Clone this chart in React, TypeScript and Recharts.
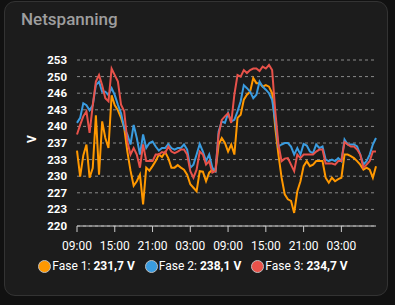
import React from 'react';
import { LineChart, Line, XAxis, YAxis, CartesianGrid } from 'recharts';

// hours since 09:00 on day 1, half-hour steps
const hours: number[] = Array.from({ length: 96 }, (_, i) => i * 0.5);

const fase1: number[] = [
  235.0, 229.8, 234.0, 236.2, 229.6, 231.5, 242.0, 230.2, 240.8, 237.5,
  235.5, 246.0, 244.0, 243.0, 241.5, 239.5, 234.8, 231.0, 228.0, 228.9,
  230.2, 224.3, 231.6, 231.0, 231.9, 232.9, 234.2, 233.7, 234.7, 233.5,
  231.6, 231.6, 232.1, 231.6, 231.2, 230.2, 228.3, 227.6, 226.9, 230.9,
  230.8, 228.9, 230.6, 231.2, 230.9, 236.2, 237.5, 236.5, 234.8, 236.2,
  234.2, 241.5, 242.1, 245.1, 246.1, 246.7, 249.4, 248.4, 248.4, 247.7,
  248.0, 247.7, 246.4, 239.5, 234.2, 229.6, 226.3, 225.3, 225.0, 222.6,
  226.9, 228.9, 231.9, 232.9, 231.9, 232.2, 232.9, 232.9, 232.9, 229.6,
  228.6, 229.6, 228.9, 229.3, 229.6, 234.2, 234.2, 233.9, 233.5, 232.9,
  232.2, 231.2, 231.6, 231.2, 229.6, 231.9,
];

const fase2: number[] = [
  240.5, 241.5, 244.4, 244.0, 243.0, 244.0, 248.0, 248.7, 246.7, 246.7,
  246.0, 247.4, 246.0, 244.1, 242.4, 239.5, 238.2, 236.2, 240.1, 237.5,
  234.2, 238.2, 235.5, 236.5, 236.8, 235.8, 235.0, 235.5, 235.5, 236.3,
  235.5, 235.2, 235.5, 235.5, 236.2, 235.2, 231.6, 232.2, 234.2, 236.3,
  234.8, 232.9, 234.2, 231.6, 230.9, 238.8, 240.8, 240.5, 242.4, 240.8,
  241.1, 242.8, 244.8, 248.0, 247.4, 246.7, 245.4, 246.1, 248.7, 247.7,
  247.1, 246.4, 245.1, 240.8, 235.8, 236.2, 236.5, 236.5, 235.8, 234.2,
  235.5, 234.2, 236.3, 236.0, 234.8, 234.5, 236.2, 235.5, 235.8, 233.2,
  232.9, 233.2, 232.9, 233.5, 232.9, 237.2, 236.2, 236.2, 236.2, 235.8,
  234.2, 232.2, 232.9, 234.2, 236.2, 237.5,
];

const fase3: number[] = [
  238.2, 240.1, 241.8, 242.8, 238.5, 244.0, 248.7, 250.0, 248.0, 245.4,
  244.8, 251.3, 250.0, 248.7, 244.1, 242.8, 236.8, 234.2, 235.5, 234.2,
  231.6, 236.2, 232.9, 232.9, 232.9, 234.2, 234.2, 234.7, 234.5, 235.8,
  234.8, 234.5, 234.8, 235.2, 235.2, 234.2, 230.9, 229.6, 231.2, 234.8,
  234.2, 232.2, 232.9, 230.6, 230.9, 238.2, 241.1, 241.8, 242.4, 240.5,
  246.1, 250.0, 249.7, 251.0, 250.4, 251.0, 251.3, 251.3, 250.8, 251.7,
  251.3, 252.0, 251.0, 242.8, 236.2, 232.9, 233.4, 233.5, 232.2, 230.9,
  234.2, 233.5, 234.2, 234.2, 234.2, 234.2, 234.8, 235.2, 235.2, 232.4,
  232.4, 232.4, 232.2, 232.9, 232.9, 236.7, 236.2, 235.8, 235.8, 235.2,
  234.2, 231.6, 232.2, 232.9, 234.8, 234.8,
];

const seriesNames: string[] = ['Fase 1', 'Fase 2', 'Fase 3'];
const currentValues: string[] = ['231,7 V', '238,1 V', '234,7 V'];
const seriesColors: string[] = ['#ff9800', '#3a9ce0', '#e8524a'];

const yTicks: number[] = [220, 223.3, 226.6, 229.9, 233.2, 236.5, 239.8, 243.1, 246.4, 249.7, 253];
const xTicks: number[] = [0, 6, 12, 18, 24, 30, 36, 42];
const xTickLabels: string[] = ['09:00', '15:00', '21:00', '03:00', '09:00', '15:00', '21:00', '03:00'];

const data = hours.map((h, i) => ({ h, f1: fase1[i], f2: fase2[i], f3: fase3[i] }));
const keys = ['f1', 'f2', 'f3'];

export default function App() {
  return (
    <div style={{ position: 'fixed', left: 0, top: 0, width: 395, height: 305, background: '#111111', fontFamily: 'Roboto, sans-serif' }}>
      <div
        style={{
          position: 'absolute',
          left: 4,
          top: 1,
          width: 382,
          height: 293,
          background: '#1c1c1c',
          border: '1px solid #333333',
          borderRadius: 11,
        }}
      />
      <div style={{ position: 'absolute', left: 21, top: 9, fontSize: 17, color: '#9e9e9e', fontWeight: 500 }}>Netspanning</div>
      <div style={{ position: 'absolute', left: 0, top: 0 }}>
        <LineChart width={395} height={305} data={data} margin={{ top: 60, right: 19, bottom: 49, left: 17 }}>
          <CartesianGrid horizontal vertical={false} stroke="#8a8a8a" strokeDasharray="3 3" />
          <XAxis
            dataKey="h"
            type="number"
            domain={[0, 47.5]}
            ticks={xTicks}
            tickFormatter={(v: number) => xTickLabels[xTicks.indexOf(v)]}
            height={30}
            stroke="#cccccc"
            tickSize={6}
            tickMargin={9}
            tick={{ fill: '#ffffff', fontSize: 12, fontFamily: 'Roboto, sans-serif' }}
            interval={0}
          />
          <YAxis
            type="number"
            domain={[220, 253]}
            ticks={yTicks}
            tickFormatter={(v: number) => String(Math.round(v))}
            width={60}
            axisLine={false}
            tickLine={false}
            tickSize={6}
            tickMargin={4}
            interval={0}
            tick={{ fill: '#ffffff', fontSize: 11.5, fontWeight: 700, fontFamily: 'Roboto, sans-serif' }}
            label={{ value: 'V', angle: -90, position: 'insideLeft', offset: 15, fill: '#ffffff', fontSize: 12, fontWeight: 700 }}
          />
          {keys.map((k, i) => (
            <Line
              key={k}
              dataKey={k}
              name={seriesNames[i]}
              stroke={seriesColors[i]}
              strokeWidth={2}
              dot={false}
              type="linear"
              isAnimationActive={false}
            />
          ))}
        </LineChart>
      </div>
      <div
        style={{
          position: 'absolute',
          left: 0,
          width: 386,
          top: 259,
          display: 'flex',
          justifyContent: 'center',
          alignItems: 'center',
          fontSize: 12,
          color: '#ffffff',
          fontFamily: 'Roboto, sans-serif',
        }}
      >
        {seriesNames.map((n, i) => (
          <div key={n} style={{ display: 'flex', alignItems: 'center', marginRight: i < 2 ? 10 : 0 }}>
            <span
              style={{
                display: 'inline-block',
                width: 11,
                height: 11,
                borderRadius: '50%',
                background: seriesColors[i],
                border: '1px solid #bdbdbd',
                marginRight: 1,
              }}
            />
            <span>
              {n}: <b>{currentValues[i]}</b>
            </span>
          </div>
        ))}
      </div>
    </div>
  );
}
